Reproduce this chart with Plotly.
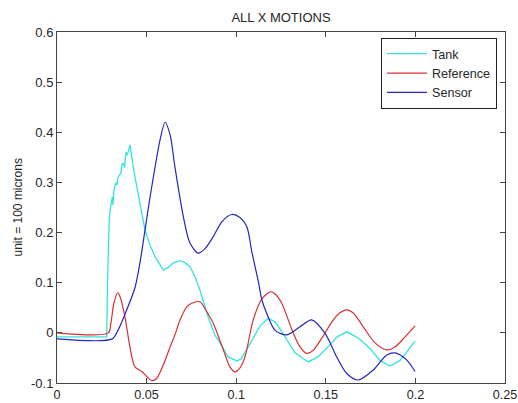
import plotly.graph_objects as go

# ---- data ----
tank_x = [0, 0.0277, 0.0282, 0.0287, 0.0290, 0.0296, 0.0301, 0.0309, 0.0312, 0.0318, 0.0328,
          0.0335, 0.0340, 0.0357, 0.0362, 0.0368, 0.0377, 0.0385, 0.0393, 0.0407, 0.0431,
          0.0463, 0.0491, 0.0519, 0.0547, 0.0593, 0.0619, 0.0647, 0.0686, 0.0714, 0.0742,
          0.0770, 0.0798, 0.0843, 0.0882, 0.0910, 0.0954, 0.1004, 0.1027, 0.1077, 0.1133,
          0.1179, 0.1217, 0.1261, 0.1328, 0.1402, 0.1456, 0.1512, 0.1563, 0.1617, 0.1680,
          0.1747, 0.1802, 0.1858, 0.1914, 0.1959, 0.1998]
tank_y = [-0.008, -0.008, 0.10, 0.19, 0.212, 0.245, 0.259, 0.271, 0.255, 0.285, 0.299,
          0.295, 0.31, 0.319, 0.335, 0.339, 0.33, 0.36, 0.355, 0.375, 0.319,
          0.26, 0.205, 0.175, 0.152, 0.125, 0.13, 0.139, 0.144, 0.14, 0.132,
          0.112, 0.085, 0.032, -0.005, -0.020, -0.048, -0.056, -0.052, -0.022, 0.014,
          0.029, 0.022, -0.001, -0.040, -0.058, -0.048, -0.028, -0.008, 0.002, -0.010,
          -0.031, -0.055, -0.066, -0.055, -0.035, -0.016]

ref_x = [0, 0.0286, 0.0301, 0.0318, 0.0339, 0.0352, 0.0379, 0.0407, 0.0435, 0.0473, 0.0501,
         0.0528, 0.0556, 0.0603, 0.0631, 0.0658, 0.0686, 0.0724, 0.0759, 0.0798, 0.0831,
         0.0872, 0.0928, 0.0965, 0.0993, 0.1021, 0.1049, 0.1095, 0.1144, 0.1193, 0.1222,
         0.1254, 0.1319, 0.1356, 0.1393, 0.1429, 0.1477, 0.1540, 0.1579, 0.1617, 0.1652,
         0.1709, 0.1775, 0.1840, 0.1886, 0.1942, 0.1998]
ref_y = [0, 0, 0.02, 0.06, 0.080, 0.072, 0.032, -0.028, -0.068, -0.077, -0.087,
         -0.095, -0.091, -0.055, -0.028, -0.004, 0.025, 0.052, 0.060, 0.062, 0.045,
         0.019, -0.034, -0.068, -0.078, -0.070, -0.048, 0.026, 0.068, 0.082, 0.076,
         0.059, -0.001, -0.028, -0.041, -0.035, -0.011, 0.025, 0.040, 0.046, 0.040,
         0.012, -0.020, -0.034, -0.028, -0.008, 0.014]

sens_x = [0, 0.0309, 0.0340, 0.0379, 0.0435, 0.0463, 0.0491, 0.0519, 0.0547, 0.0575, 0.0603,
          0.0631, 0.0658, 0.0705, 0.0742, 0.0788, 0.0826, 0.0872, 0.0921, 0.0975, 0.1021,
          0.1059, 0.1088, 0.1122, 0.1144, 0.1170, 0.1217, 0.1282, 0.1356, 0.1421, 0.1496,
          0.1561, 0.1617, 0.1681, 0.1765, 0.1840, 0.1886, 0.1951, 0.1998]
sens_y = [-0.012, -0.012, 0.005, 0.037, 0.09, 0.14, 0.205, 0.27, 0.330, 0.385, 0.420,
          0.395, 0.331, 0.232, 0.179, 0.159, 0.168, 0.192, 0.222, 0.236, 0.230,
          0.212, 0.16, 0.105, 0.065, 0.039, 0.005, -0.004, 0.012, 0.026, -0.001,
          -0.048, -0.081, -0.094, -0.074, -0.044, -0.040, -0.054, -0.077]

x_ticks = [0, 0.05, 0.1, 0.15, 0.2, 0.25]
x_labels = ["0", "0.05", "0.1", "0.15", "0.2", "0.25"]
y_ticks = [-0.1, 0, 0.1, 0.2, 0.3, 0.4, 0.5, 0.6]
y_labels = ["-0.1", "0", "0.1", "0.2", "0.3", "0.4", "0.5", "0.6"]

fig = go.Figure()
fig.add_trace(go.Scatter(x=tank_x, y=tank_y, mode="lines", name="Tank",
                         line=dict(color="#33e3e3", width=1.3)))
fig.add_trace(go.Scatter(x=ref_x, y=ref_y, mode="lines", name="Reference",
                         line=dict(color="#d83030", width=1.2, shape="spline", smoothing=0.8)))
fig.add_trace(go.Scatter(x=sens_x, y=sens_y, mode="lines", name="Sensor",
                         line=dict(color="#2626c0", width=1.2, shape="spline", smoothing=0.8)))

font = "Liberation Sans, Arial, sans-serif"
txt = "#262626"
axis_common = dict(showline=True, mirror="ticks", linecolor="#444444", linewidth=1,
                   ticks="inside", ticklen=5, tickcolor="#444444", showgrid=False,
                   zeroline=False, automargin=False, ticklabeloverflow="allow")

W, H = 518, 403
L, R, T, B = 57, 505, 32, 383

fig.update_layout(
    width=W, height=H,
    margin=dict(l=L, r=W - R, t=T, b=H - B),
    paper_bgcolor="white", plot_bgcolor="white",
    title=dict(text="ALL X MOTIONS", x=(L + R) / 2 / W, xanchor="center",
               y=1 - 17 / H, yanchor="middle",
               font=dict(family=font, size=13, color=txt)),
    xaxis=dict(range=[0, 0.25], tickvals=x_ticks, ticktext=x_labels,
               tickfont=dict(family=font, size=12.6, color=txt), **axis_common),
    yaxis=dict(range=[-0.1, 0.6], tickvals=y_ticks, ticktext=y_labels,
               tickfont=dict(family=font, size=13, color=txt), **axis_common),
    legend=dict(x=(497 - L) / (R - L), y=(B - 38) / (B - T),
                xanchor="right", yanchor="top",
                bgcolor="white", bordercolor="#222222", borderwidth=1,
                font=dict(family=font, size=12.6, color=txt),
                tracegroupgap=0, itemwidth=40),
    showlegend=True,
    annotations=[dict(text="unit = 100 microns", textangle=-90, xref="paper", yref="paper",
                      x=(17 - L) / (R - L), y=0.5, xanchor="center", yanchor="middle",
                      showarrow=False, font=dict(family=font, size=12, color=txt))],
)

fig.write_html(
    "out.html",
    config={"displayModeBar": False, "staticPlot": True},
    post_script="document.body.style.margin='0';document.body.style.overflow='hidden';",
)
